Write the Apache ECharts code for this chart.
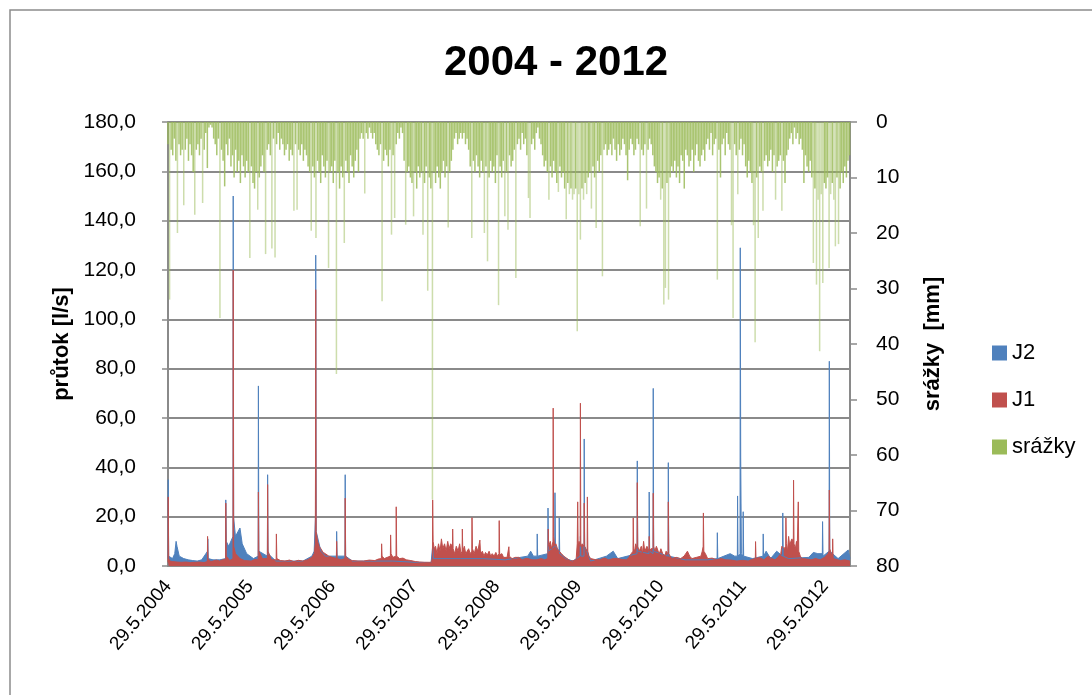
<!DOCTYPE html>
<html>
<head>
<meta charset="utf-8">
<script src="https://cdn.jsdelivr.net/npm/echarts@6/dist/echarts.min.js"></script>
<style>html,body{margin:0;padding:0;background:#fff}#c{width:1092px;height:695px}</style>
</head>
<body>
<div id="c"></div>
<script>
// ---- data (x = days since 29.5.2004) ----
const rokyPopisky = ['29.5.2004','29.5.2005','29.5.2006','29.5.2007','29.5.2008','29.5.2009','29.5.2010','29.5.2011','29.5.2012'];
const posledniDen = 3033;
const leveOsaTicks = [0,20,40,60,80,100,120,140,160,180];
const praveOsaTicks = [0,10,20,30,40,50,60,70,80];

// J2 flow [day, l/s]
const J2 = [[0,3],[1,35],[3,4],[20,3],[30,5],[36,10],[40,8],[50,4],[70,3],[90,2.5],[110,2.2],[130,2],[150,2.5],[176,6],[177,11],[179,3],[200,2.5],[230,2.5],[256,3],[257,26.8],[259,10],[270,8],[289,12],[290,150],[292,19.5],[300,12],[320,15.4],[330,9],[350,5],[380,3],[401,4],[402,73],[404,6],[442,4],[443,37],[445,5],[480,2],[520,2],[600,2],[640,4],[650,6],[656,20],[657,126],[659,14],[680,6],[700,4],[749,4],[750,14],[752,4],[787,4],[788,37],[790,4],[820,2],[900,2],[1000,2],[1100,1.5],[1170,1.4],[1177,8],[1180,3],[1200,3],[1300,3],[1400,3],[1500,2.5],[1600,4],[1613,6],[1625,4],[1641,4],[1642,13],[1644,4],[1689,5],[1690,23.5],[1692,6],[1720,8],[1721,29.7],[1723,8],[1739,6],[1740,19.5],[1742,5],[1770,3],[1800,2],[1833,4],[1834,12],[1836,4],[1850,4],[1851,51.5],[1853,8],[1880,2],[1950,4],[1980,6],[2000,3],[2086,5],[2087,42.6],[2089,6],[2139,5],[2140,30],[2142,6],[2157,5],[2158,72],[2160,6],[2224,4],[2225,41.9],[2227,4],[2300,2.5],[2400,2.5],[2442,3],[2443,13.5],[2445,3],[2500,5],[2520,4],[2532,4],[2533,28.4],[2535,4],[2544,5],[2545,129],[2547,43.8],[2550,5],[2557,4],[2558,22],[2560,4],[2600,3],[2646,4],[2647,13],[2649,4],[2660,6],[2680,3],[2707,6],[2733,4],[2734,21.5],[2736,4],[2760,3],[2850,3.5],[2870,5.5],[2890,5],[2910,5],[2911,18],[2913,4],[2940,6],[2941,83],[2943,6],[2980,3],[3025,6.5],[3033,3]];

// J1 flow [day, l/s]
const J1 = [[0,1.5],[1,28],[3,3],[8,2],[20,1.8],[40,1.6],[60,1.5],[80,1.6],[100,1.4],[120,1.5],[140,1.6],[160,1.4],[175,1.8],[176,12],[178,3],[190,1.8],[200,2],[215,2.4],[230,2],[245,2.6],[256,2.5],[257,25.5],[259,4],[275,2.2],[289,3],[290,120],[292,8],[300,5],[320,3],[340,2.2],[370,2],[385,2.6],[401,2.5],[402,30],[404,6],[420,3],[442,3],[443,33],[445,6],[460,2.5],[481,2.5],[482,13],[484,3],[500,2.2],[520,2],[540,2.4],[560,1.8],[580,2.3],[600,2],[620,2.5],[640,3.5],[650,5],[655,9],[656,40],[657,112],[659,14],[665,10],[672,8],[680,7],[690,5.5],[700,5],[715,4],[730,3.5],[749,3],[750,10],[752,3],[770,2.5],[787,3],[788,27.5],[790,4],[805,2.6],[820,2.2],[845,2],[870,2],[895,2.4],[920,2.2],[935,2.8],[949,3],[950,9],[952,4],[962,3],[975,3.5],[989,4],[990,12.6],[992,5],[1000,3.5],[1014,4],[1015,24],[1017,4],[1030,3],[1045,3.2],[1060,2.5],[1080,2.2],[1100,1.8],[1120,1.6],[1140,1.5],[1170,1.5],[1176,3],[1177,26.8],[1179,10],[1184,7],[1190,8],[1196,5],[1203,9],[1210,6],[1216,11],[1222,7],[1230,9],[1237,6],[1244,10],[1250,7],[1257,9],[1265,8],[1266,15],[1268,7],[1275,5],[1282,8],[1290,6],[1297,9],[1303,5],[1308,6],[1309,15],[1311,6],[1318,8],[1324,5],[1330,5],[1337,7],[1344,5],[1351,6],[1352,19.6],[1354,7],[1362,5],[1370,8],[1378,6],[1386,6],[1387,10.5],[1390,5],[1398,6],[1405,4],[1412,5.5],[1420,4.5],[1428,6],[1435,4],[1442,5],[1450,4],[1458,5.5],[1465,4],[1472,5],[1473,18.4],[1475,4.5],[1485,5],[1492,3.5],[1500,4],[1508,3.5],[1515,4],[1516,7.8],[1518,4],[1530,3],[1545,3.5],[1560,3.5],[1575,2.5],[1590,3],[1600,3],[1620,2.5],[1640,2.5],[1660,3],[1675,2.5],[1689,3],[1691,15],[1693,8],[1700,10],[1706,7],[1712,10],[1713,64],[1715,12],[1720,8],[1725,9],[1732,7],[1740,6],[1750,5],[1760,4],[1775,3],[1790,2],[1805,2.2],[1815,2.5],[1820,9],[1822,26],[1824,8],[1828,10],[1833,8],[1834,66],[1836,8],[1842,9],[1850,8],[1851,25.5],[1853,8],[1858,7],[1864,6],[1865,28],[1867,6],[1872,4],[1880,3],[1900,2.6],[1920,2.5],[1940,3.2],[1960,2.5],[1980,3],[2000,3],[2020,2.6],[2040,2.5],[2050,3.5],[2060,5],[2068,6],[2069,19.5],[2071,7],[2075,6],[2080,9],[2086,7],[2087,33.8],[2089,8],[2095,6],[2100,7],[2105,8],[2110,5],[2115,10],[2120,6],[2125,7],[2130,8],[2139,6],[2140,12],[2142,6],[2148,7],[2157,7],[2158,29.5],[2160,8],[2165,6],[2172,8],[2180,6],[2185,5],[2192,7],[2200,5],[2210,4],[2215,6],[2224,5],[2225,26],[2227,5],[2240,3],[2260,3.5],[2280,3],[2295,4],[2310,6],[2320,4],[2330,3],[2350,3.5],[2370,4],[2376,6],[2380,8],[2381,21.5],[2383,6],[2390,5],[2400,3],[2420,3.2],[2440,2.5],[2460,3],[2480,2.5],[2505,2.4],[2530,2],[2555,2.3],[2580,2],[2595,2.6],[2612,3],[2613,9.9],[2615,3],[2630,3.5],[2650,2.5],[2670,4],[2685,3],[2700,2.5],[2712,3.5],[2720,4],[2725,5],[2730,8],[2740,7],[2747,8],[2748,19.5],[2750,9],[2755,6],[2760,12],[2765,8],[2770,10],[2775,11],[2781,9],[2782,34.8],[2784,9],[2790,7],[2795,10],[2798,6],[2802,6],[2803,26],[2805,6],[2812,4],[2820,3],[2840,2.8],[2860,2.5],[2880,3],[2900,2.5],[2920,3.5],[2935,5],[2940,6],[2941,30.8],[2943,7],[2950,5],[2955,4],[2956,11],[2958,3],[2975,2.6],[2990,2.2],[3010,2.5],[3033,2]];

// precipitation: weekly maximum daily value, week i starts at day i*7 [mm]
const srazkyTydenni = [
4,32,5,6,3,7,20,4,6,5,
15,5,3,7,4,6,9,16.7,5,4,
6,3,14.6,5,2,8.3,1,0.5,1,3,
4,6,3,35.3,5,7,11.6,4,6,3,
8,6,10,5,9,7,11,6,8,10,
7,9,24.5,8,11,12,9,15.8,10,8,
6,9,23.8,5,4,6,22.8,3,24.4,4,
2,5,3,4,6,5,4,7,5,6,
16,4,15.8,5,6,4,7,5,6,8,
9,19.6,8,10,20.9,7,9,11,6,8,
10,7,26.3,9,8,11,7,45.4,9,12,
8,10,21.8,7,9,11,6,8,10,7,
5,9,3,2,3,12.9,2,3,1,2,
3,2,4,5,6,4,32.3,7,5,6,
8,5,20.3,6,17.3,4,2,3,1,2,
7,18.5,9,8,10,11,17,9,12,8,
10,9,20.3,11,8,30.4,10,12,68,9,
11,8,10,12,9,7,10,8,19,9,
7,5,3,2,4,3,2,3,2,4,
3,5,8,20.9,7,9,6,8,10,7,
9,20,8,25.1,10,7,9,8,11,6,
33,8,10,7,17,9,19.4,6,8,7,
5,28.1,4,3,5,2,4,3,6,13.7,
17.3,4,3,5,2,1,3,4,6,8,
7,9,14,8,10,7,9,11,12.6,8,
10,9,12,17.5,11,13,12,14,13,12,
37.7,13,21.2,12,14,11,13,10,9,15.6,
8,10,19.1,7,9,6,27.8,5,4,6,
5,4,6,3,5,7,4,6,5,3,
4,6,10.5,5,3,4,6,5,3,4,
18.8,5,6,4,15.6,5,3,4,6,8,
9,11,10,14,12,32.9,29.9,11,32,10,
8,9,7,10,8,11,6,7,12,5,
6,8,7,5,9,6,4,7,8,6,
5,7,4,3,5,2,6,4,3,28.4,
5,10,4,3,6,2,4,5,18.6,35.3,
4,6,13,5,3,6,4,8,10,7,
9,11,18.6,39.7,10,20.9,8,9,16,7,
6,8,7,5,9,6,14,8,7,6,
16,7,11,6,5,3,2,4,1,3,
2,4,3,5,11,6,8,9,7,10,
25.4,12,29.3,14,41.3,13,29,11,12,10,
26.3,13,11,14,22.4,10,22,12,9,11,
8,10,7,6
];

const srazkyData = srazkyTydenni.map((v, i) => [i * 7, v]);

const FONT = "'Liberation Sans',Arial,sans-serif";
const GRIDC = '#8a8a8a';
const C_J2 = '#4F81BD', C_J1 = '#C0504D', C_SR = '#9BBB59';

const chart = echarts.init(document.getElementById('c'), null, {renderer: 'canvas'});
chart.setOption({
  animation: false,
  backgroundColor: '#fff',
  color: [C_J2, C_J1, C_SR],
  title: {
    text: '2004 - 2012', left: 439, top: 37,
    textStyle: {fontFamily: FONT, fontWeight: 'bold', fontSize: 42, color: '#000'}
  },
  graphic: [{
    type: 'rect', shape: {x: 10, y: 10, width: 1200, height: 1200},
    style: {fill: 'none', stroke: '#8c8c8c', lineWidth: 1.5}, silent: true
  }],
  legend: {
    orient: 'vertical', left: 987, top: 337,
    itemWidth: 15, itemHeight: 15, itemGap: 25, icon: 'rect',
    textStyle: {fontFamily: FONT, fontSize: 22, color: '#000'},
    data: [
      {name: 'J2', itemStyle: {color: C_J2}},
      {name: 'J1', itemStyle: {color: C_J1}},
      {name: 'srážky', itemStyle: {color: C_SR}}
    ]
  },
  grid: {left: 168, right: 242, top: 122, bottom: 129, containLabel: false},
  xAxis: {
    type: 'value', min: 0, max: posledniDen, interval: 365.25,
    axisLine: {show: true, onZero: false, lineStyle: {color: GRIDC, width: 2}},
    axisTick: {show: false},
    splitLine: {show: false},
    axisLabel: {
      rotate: 50, margin: 17, showMaxLabel: false,
      fontFamily: FONT, fontSize: 19, color: '#000',
      formatter: v => rokyPopisky[Math.round(v / 365.25)] || ''
    }
  },
  yAxis: [{
    type: 'value', min: leveOsaTicks[0], max: leveOsaTicks[leveOsaTicks.length - 1], interval: 20,
    name: 'průtok [l/s]', nameLocation: 'middle', nameGap: 92, nameRotate: 90,
    nameTextStyle: {fontFamily: FONT, fontWeight: 'bold', fontSize: 22, color: '#000'},
    axisLine: {show: true, lineStyle: {color: GRIDC, width: 2}},
    axisTick: {show: true, length: 6, lineStyle: {color: GRIDC, width: 1.5}},
    splitLine: {show: true, lineStyle: {color: GRIDC, width: 2}},
    axisLabel: {
      margin: 32, fontFamily: FONT, fontSize: 21, color: '#000',
      formatter: v => v.toFixed(1).replace('.', ',')
    }
  }, {
    type: 'value', min: praveOsaTicks[0], max: praveOsaTicks[praveOsaTicks.length - 1], interval: 10, inverse: true,
    position: 'right',
    name: 'srážky  [mm]', nameLocation: 'middle', nameGap: 72, nameRotate: 90,
    nameTextStyle: {fontFamily: FONT, fontWeight: 'bold', fontSize: 22, color: '#000'},
    axisLine: {show: true, lineStyle: {color: GRIDC, width: 2}},
    axisTick: {show: true, length: 7, lineStyle: {color: GRIDC, width: 1.5}},
    splitLine: {show: false},
    axisLabel: {margin: 26, fontFamily: FONT, fontSize: 21, color: '#000'}
  }],
  series: [{
    name: 'J2', type: 'line', yAxisIndex: 0, data: J2,
    showSymbol: false, symbol: 'none',
    lineStyle: {width: 1, color: C_J2},
    areaStyle: {color: C_J2, opacity: 1},
    itemStyle: {color: C_J2}
  }, {
    name: 'J1', type: 'line', yAxisIndex: 0, data: J1,
    showSymbol: false, symbol: 'none',
    lineStyle: {width: 1, color: C_J1},
    areaStyle: {color: C_J1, opacity: 1},
    itemStyle: {color: C_J1}
  }, {
    name: 'srážky', type: 'bar', yAxisIndex: 1, data: srazkyData,
    barWidth: 1.5,
    itemStyle: {
      color: p => (p.value[1] > 12 ? 'rgba(155,187,89,0.5)' : 'rgba(155,187,89,0.85)')
    }
  }]
});
</script>
</body>
</html>
